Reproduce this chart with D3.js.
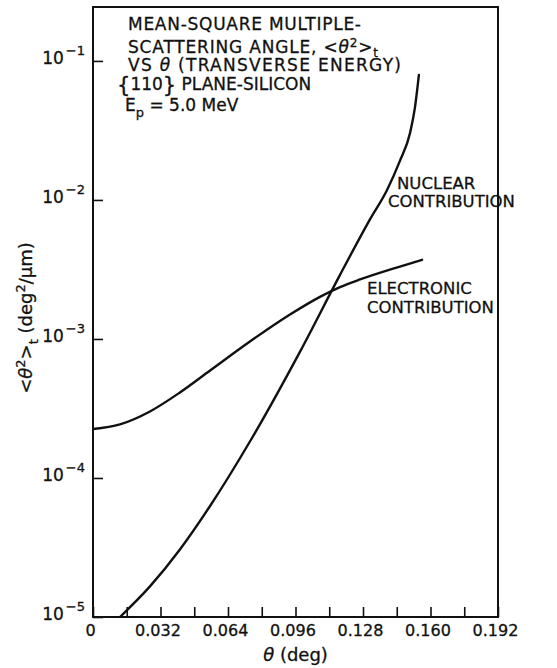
<!DOCTYPE html>
<html>
<head>
<meta charset="utf-8">
<script src="https://cdn.jsdelivr.net/npm/d3@7"></script>
<style>
  body { margin: 0; background: #fff; }
  svg { display: block; font-family: 'DejaVu Sans', sans-serif; }
  text { fill: #111; stroke: #111; stroke-width: 0.3px; }
</style>
</head>
<body>
<div id="chart"></div>
<script>
// electronic contribution
const elecTheta = [0, 0.0128, 0.027, 0.0412, 0.0555, 0.0744, 0.0934, 0.1076, 0.1171, 0.1266, 0.1455, 0.156];
const elecVal = [2.25e-4, 2.43e-4, 3.01e-4, 4.12e-4, 5.93e-4, 9.59e-4, 1.5e-3, 2.01e-3, 2.36e-3, 2.68e-3, 3.32e-3, 3.71e-3];

// nuclear contribution
const nucTheta = [0.0128, 0.027, 0.0412, 0.0555, 0.0744, 0.0981, 0.1171, 0.1313, 0.1394, 0.1455, 0.1503, 0.1526, 0.1545];
const nucVal = [1e-5, 1.66e-5, 3.06e-5, 6.29e-5, 1.83e-4, 8.08e-4, 2.89e-3, 7.25e-3, 1.18e-2, 1.91e-2, 3.03e-2, 4.59e-2, 7.93e-2];

const xTicks = [0, 0.016, 0.032, 0.048, 0.064, 0.08, 0.096, 0.112, 0.128, 0.144, 0.16, 0.176, 0.192];
const xTickLabels = ['0', '0.032', '0.064', '0.096', '0.128', '0.160', '0.192'];
const yTickExp = [-5, -4, -3, -2, -1];

const W = 557, H = 668;
const margin = { left: 93, right: 498, top: 7, bottom: 617 };

const svg = d3.select('#chart').append('svg')
  .attr('width', W).attr('height', H);

const x = d3.scaleLinear().domain([0, 0.192]).range([margin.left, margin.right]);
const y = d3.scaleLog().domain([1e-5, Math.pow(10, -0.612)]).range([margin.bottom, margin.top]);

svg.append('defs').append('clipPath').attr('id', 'clip')
  .append('rect').attr('x', margin.left).attr('y', margin.top)
  .attr('width', margin.right - margin.left).attr('height', margin.bottom - margin.top);

// frame
svg.append('rect')
  .attr('x', margin.left).attr('y', margin.top)
  .attr('width', margin.right - margin.left).attr('height', margin.bottom - margin.top)
  .attr('fill', 'none').attr('stroke', '#111').attr('stroke-width', 2);

// x axis, ticks point inward
const xAxis = svg.append('g')
  .attr('transform', `translate(0,${margin.bottom})`)
  .call(d3.axisBottom(x).tickValues(xTicks).tickSize(-10).tickSizeOuter(0).tickPadding(8)
    .tickFormat(d => {
      const i = Math.round(d / 0.032 * 1000) / 1000;
      return Number.isInteger(i) ? xTickLabels[i] : '';
    }));
xAxis.select('.domain').remove();
xAxis.selectAll('.tick line').attr('stroke', '#111').attr('stroke-width', 1.6);
xAxis.selectAll('.tick text')
  .attr('font-size', 16).attr('font-family', 'DejaVu Sans').attr('fill', '#111')
  .attr('dx', -3);

// y axis
const yAxis = svg.append('g')
  .attr('transform', `translate(${margin.left},0)`)
  .call(d3.axisLeft(y).tickValues(yTickExp.map(e => Math.pow(10, e)))
    .tickSize(-10).tickSizeOuter(0).tickFormat(''));
yAxis.select('.domain').remove();
yAxis.selectAll('.tick line').attr('stroke', '#111').attr('stroke-width', 1.6);

const yLab = svg.append('g');
yTickExp.forEach(e => {
  const t = yLab.append('text')
    .attr('x', 85).attr('y', y(Math.pow(10, e)) + 3)
    .attr('text-anchor', 'end').attr('font-size', 17);
  t.append('tspan').text('10');
  t.append('tspan').attr('dy', -9).attr('font-size', 13).attr('dx', 2).text('\u2212' + (-e));
});

// curves
const line = d3.line()
  .x(d => x(d[0])).y(d => y(d[1]))
  .curve(d3.curveMonotoneX);

const curves = svg.append('g').attr('clip-path', 'url(#clip)');
[[elecTheta, elecVal], [nucTheta, nucVal]].forEach(([t, v]) => {
  curves.append('path')
    .datum(d3.zip(t, v))
    .attr('d', line)
    .attr('fill', 'none').attr('stroke', '#111').attr('stroke-width', 2.4)
    .attr('stroke-linecap', 'round');
});

// annotation text
const note = svg.append('g').attr('font-size', 17);
note.append('text').attr('x', 128).attr('y', 30)
  .attr('textLength', 233).attr('lengthAdjust', 'spacing')
  .text('MEAN-SQUARE MULTIPLE-');
const l2 = note.append('text').attr('x', 128).attr('y', 53)
  .attr('textLength', 250).attr('lengthAdjust', 'spacing');
l2.append('tspan').text('SCATTERING ANGLE, <');
l2.append('tspan').attr('font-style', 'italic').text('\u03b8');
l2.append('tspan').attr('dy', -6).attr('font-size', 12).text('2');
l2.append('tspan').attr('dy', 6).text('>');
l2.append('tspan').attr('dy', 4).attr('font-size', 12).text('t');
const l3 = note.append('text').attr('x', 128).attr('y', 71)
  .attr('textLength', 273).attr('lengthAdjust', 'spacing');
l3.append('tspan').text('VS ');
l3.append('tspan').attr('font-style', 'italic').text('\u03b8');
l3.append('tspan').text(' (TRANSVERSE ENERGY)');

const l4 = note.append('text').attr('x', 117).attr('y', 90);
l4.append('tspan').attr('font-size', 21).attr('dy', 2).text('{');
l4.append('tspan').attr('dy', -2).text('110');
l4.append('tspan').attr('font-size', 21).attr('dy', 2).text('}');
l4.append('tspan').attr('dy', -2).text(' PLANE-SILICON');
const l5 = note.append('text').attr('x', 125).attr('y', 111);
l5.append('tspan').text('E');
l5.append('tspan').attr('dy', 6).attr('font-size', 13).text('p');
l5.append('tspan').attr('dy', -6).text(' = 5.0 MeV');

const labels = svg.append('g').attr('font-size', 16.5);
labels.append('text').attr('x', 397).attr('y', 189).text('NUCLEAR');
labels.append('text').attr('x', 388).attr('y', 207).text('CONTRIBUTION');
labels.append('text').attr('x', 367).attr('y', 294).text('ELECTRONIC');
labels.append('text').attr('x', 367).attr('y', 313).text('CONTRIBUTION');

// axis titles
const xt = svg.append('text')
  .attr('x', (margin.left + margin.right) / 2).attr('y', 661)
  .attr('text-anchor', 'middle').attr('font-size', 18);
xt.append('tspan').attr('font-style', 'italic').text('\u03b8');
xt.append('tspan').text(' (deg)');

const yt = svg.append('text')
  .attr('transform', `translate(32,318) rotate(-90)`)
  .attr('text-anchor', 'middle').attr('font-size', 18);
yt.append('tspan').text('<');
yt.append('tspan').attr('font-style', 'italic').text('\u03b8');
yt.append('tspan').attr('dy', -7).attr('font-size', 13).text('2');
yt.append('tspan').attr('dy', 7).text('>');
yt.append('tspan').attr('dy', 6).attr('font-size', 13).text('t');
yt.append('tspan').attr('dy', -6).text(' (deg');
yt.append('tspan').attr('dy', -7).attr('font-size', 13).text('2');
yt.append('tspan').attr('dy', 7).text('/\u03bcm)');
</script>
</body>
</html>
